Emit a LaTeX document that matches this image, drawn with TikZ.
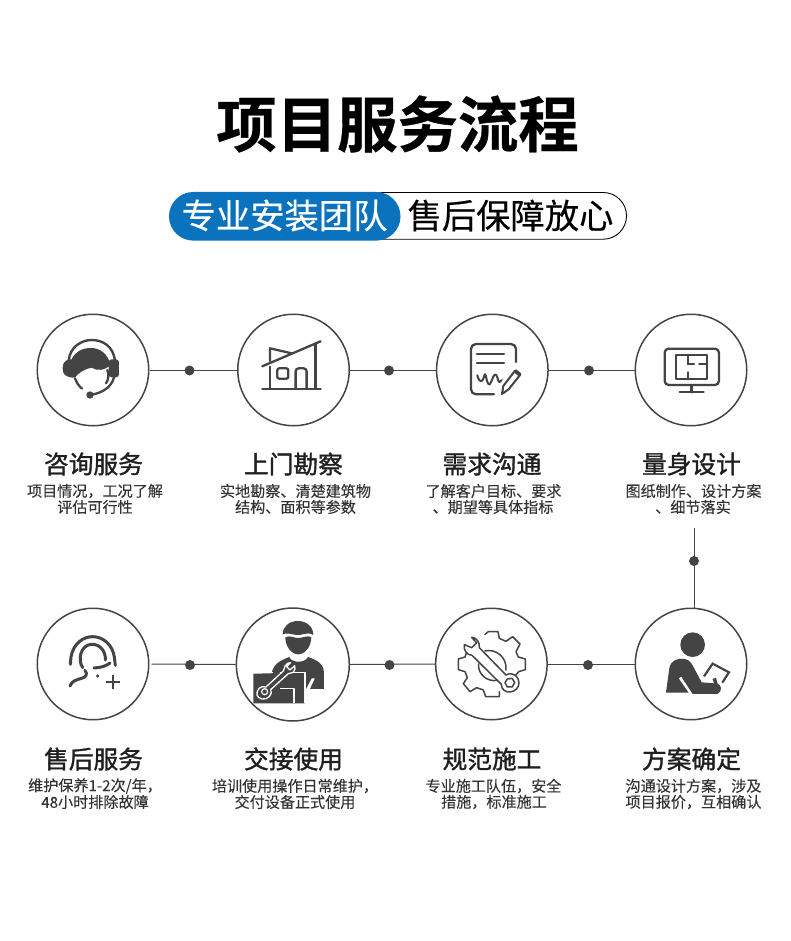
\documentclass[tikz,border=0pt]{standalone}
\usepackage{fontspec}
\setmainfont{Noto Sans CJK SC}
\newfontfamily\cjkreg{Noto Sans CJK SC}
\newfontfamily\cjksub[FakeBold=0.35]{Noto Sans CJK SC}
\newfontfamily\cjkdesc[FakeBold=0.12]{Noto Sans CJK SC}
\newfontfamily\cjkmed[FakeBold=1.3]{Noto Sans CJK SC}
\newfontfamily\cjkbold[FakeBold=0.6]{Noto Sans CJK SC Bold}
\definecolor{ink}{HTML}{444444}
\definecolor{pillblue}{HTML}{0B72BD}
\tikzset{
  stepcircle/.style={circle,draw=ink,line width=1.5pt,minimum size=111.5pt,inner sep=0pt,fill=white},
  linkdot/.style={circle,fill=ink,minimum size=10pt,inner sep=0pt},
  linkline/.style={draw=ink,line width=1pt},
  steptitle/.style={font=\cjkmed\fontsize{24.7}{26}\selectfont,text=black!88,inner sep=0pt,anchor=center},
  stepdesc/.style={font=\cjkdesc\fontsize{15.1}{16}\selectfont,text=black!80,inner sep=0pt,anchor=center},
  iconline/.style={draw=ink,line width=2.3pt,line cap=round,line join=round},
  iconthin/.style={draw=ink,line width=1.5pt,line cap=round,line join=round},
  iconfill/.style={fill=ink},
  zoomA/.style={shift={(20,300)},x=0.3333pt,y=-0.3333pt},
  zoomB/.style={shift={(420,300)},x=0.3333pt,y=-0.3333pt},
  zoomC/.style={shift={(20,595)},x=0.3333pt,y=-0.3333pt},
  zoomD/.style={shift={(420,595)},x=0.3333pt,y=-0.3333pt}
}
\begin{document}
\begin{tikzpicture}[x=1pt,y=-1pt]
\useasboundingbox[fill=white] (0,0) rectangle (790,941);
% title
\node[font=\cjkbold\fontsize{60.4}{64}\selectfont,inner sep=0pt,text=black] (title) at (397.5,124) {项目服务流程};
% pill
\draw[black,line width=0.9pt,rounded corners=23.3pt,fill=white] (360,192.5) rectangle (626.5,239.2);
\fill[pillblue,rounded corners=24.3pt] (169,192) rectangle (400.5,240.6);
\node[font=\cjksub\fontsize{34.3}{36}\selectfont,text=white,inner sep=0pt] (pilla) at (284.5,215.5) {专业安装团队};
\node[font=\cjksub\fontsize{34.3}{36}\selectfont,text=black,inner sep=0pt] (pillb) at (510.5,215.5) {售后保障放心};
% circles
\node[stepcircle] (c1) at (93,370) {};
\node[stepcircle] (c2) at (293.5,370) {};
\node[stepcircle] (c3) at (492.3,370) {};
\node[stepcircle] (c4) at (691,370) {};
\node[stepcircle] (c5) at (93,664) {};
\node[stepcircle,minimum size=113pt] (c6) at (292.8,664.5) {};
\node[stepcircle] (c7) at (491.4,664) {};
\node[stepcircle] (c8) at (691,664) {};
% dots
\coordinate (l1) at (189.5,370.5);
\coordinate (l2) at (389,370.5);
\coordinate (l3) at (589,370.5);
\coordinate (l4) at (190,665);
\coordinate (l5) at (389.5,665);
\coordinate (l6) at (588,665);
\coordinate (vtop) at (694,528);
\coordinate (vdot) at (694,561);
\coordinate (vend) at (694,608.5);
\draw[linkline] (c1.east) -- (c2.west);
\draw[linkline] (c2.east) -- (c3.west);
\draw[linkline] (c3.east) -- (c4.west);
\draw[linkline,shorten <=2pt] (c5.east) -- (c6.west);
\draw[linkline] (c6.east) -- (c7.west);
\draw[linkline] (c7.east) -- (c8.west);
\draw[linkline] (vtop) -- (vend);
\node[linkdot] (d1) at (l1) {};
\node[linkdot] (d2) at (l2) {};
\node[linkdot] (d3) at (l3) {};
\node[linkdot] (d4) at (l4) {};
\node[linkdot] (d5) at (l5) {};
\node[linkdot] (d6) at (l6) {};
\node[linkdot] (d7) at (vdot) {};
% icon 1 headset
\begin{scope}[zoomA]
\draw[iconline,line width=2.4pt,line cap=butt] (146,182) .. controls (150,140) and (185,120) .. (215,120) .. controls (250,120) and (280,140) .. (285,182);
\fill[ink] (155,178) .. controls (130,178) and (128,195) .. (128,205) .. controls (128,222) and (135,233) .. (165,233) .. controls (172,222) and (190,208) .. (215,203) .. controls (230,214) and (255,212) .. (272,194) .. controls (262,160) and (240,144) .. (212,144) .. controls (185,144) and (165,156) .. (155,178) -- cycle;
\fill[ink,rounded corners=3pt] (266,178) rectangle (297,232);
\draw[iconline] (165,235) .. controls (170,248) and (176,258) .. (186,266);
\draw[iconline] (262,210) .. controls (268,225) and (265,240) .. (258,250);
\draw[iconline] (282,232) .. controls (275,262) and (245,280) .. (210,285);
\fill[ink] (210,285) circle[radius=11];
\end{scope}
% icon 2 house
\begin{scope}[zoomA]
\draw[iconline] (727,267) -- (902,267);
\draw[iconline] (727,199) -- (902,124);
\draw[iconline] (887,131) -- (887,267);
\draw[iconline] (750,183) -- (750,145) -- (815,160);
\draw[iconline] (750,200) -- (750,267);
\draw[iconline,rounded corners=2pt] (772,205) rectangle (805,236);
\draw[iconline,rounded corners=3pt] (827,267) -- (827,205) -- (860,205) -- (860,267);
\end{scope}
% icon 3 document
\begin{scope}[zoomB]
\draw[iconline,rounded corners=5pt] (288,186) -- (288,132) -- (153,132) -- (153,283) -- (222,283);
\draw[iconline] (171,161) -- (252,161);
\draw[iconline] (171,190) -- (252,190);
\draw[iconline,line width=2pt] (172,226) .. controls (178,250) and (188,250) .. (193,226) .. controls (198,210) and (200,262) .. (210,252) .. controls (218,240) and (220,220) .. (228,224) .. controls (236,232) and (232,258) .. (245,240);
\draw[iconline,line width=2pt] (246,282) -- (250,258) -- (285,212) -- (301,224) -- (266,268) -- cycle;
\fill[ink] (281,217) -- (288,208) -- (303,219) -- (296,228) -- cycle;
\end{scope}
% icon 4 monitor
\begin{scope}[zoomB]
\draw[iconline,rounded corners=4pt] (734,146) rectangle (897,255);
\draw[iconline] (815,255) -- (815,277);
\draw[iconline] (779,277) -- (851,277);
\draw[iconline] (768,164) rectangle (862,236);
\draw[iconline] (805,164) -- (805,193);
\draw[iconline] (805,217) -- (805,236);
\draw[iconline] (805,191) -- (822,191);
\draw[iconline] (838,191) -- (862,191);
\end{scope}
% icon 5 headset outline
\begin{scope}[zoomC,line width=3pt]
\draw[draw=ink,line width=3pt,line cap=round,line join=round] (151,208) -- (153,186) .. controls (160,145) and (190,125) .. (218,125) .. controls (250,125) and (278,150) .. (283,186) -- (286,211);
\draw[draw=ink,line width=3pt,line cap=round,line join=round] (188,218) .. controls (172,195) and (182,150) .. (214,148) .. controls (240,146) and (258,170) .. (256,195);
\draw[draw=ink,line width=3pt,line cap=round,line join=round] (150,273) .. controls (155,258) and (170,254) .. (185,250) .. controls (198,246) and (204,238) .. (195,226);
\draw[draw=ink,line width=3pt,line cap=round,line join=round] (222,219) .. controls (240,218) and (258,214) .. (270,204);
\fill[ink] (233,243) circle[radius=5];
\draw[iconline,line width=1.8pt,line cap=butt] (257,261) -- (300,261);
\draw[iconline,line width=1.8pt,line cap=butt] (278,241) -- (278,281);
\end{scope}
% icon 6 worker
\begin{scope}[zoomC]
\fill[ink] (788,118) .. controls (788,95) and (808,78) .. (833,78) .. controls (860,78) and (880,95) .. (880,120) .. controls (860,108) and (845,123) .. (830,120) .. controls (815,118) and (800,112) .. (788,118) -- cycle;
\fill[ink] (796,127) .. controls (810,120) and (820,128) .. (832,129) .. controls (848,130) and (860,120) .. (874,126) .. controls (874,155) and (855,178) .. (835,178) .. controls (815,178) and (796,155) .. (796,127) -- cycle;
\fill[ink] (755,235) .. controls (760,205) and (785,195) .. (808,186) .. controls (815,205) and (855,205) .. (864,186) .. controls (890,195) and (912,205) .. (912,235) -- (912,282) -- (870,282) -- (885,250) -- (875,250) -- (858,282) -- (855,325) -- (700,325) -- (700,236) -- cycle;
\draw[white,line width=1.6pt] (700,233) -- (760,233);
\draw[white,line width=1.6pt] (780,233) -- (855,233) -- (855,325);
\draw[white,line width=1.3pt,line join=round] (780,280) -- (822,280) -- (822,325);
\draw[white,line width=1.3pt,fill=ink,line join=round] (796,212) -- (790,228) -- (738,276) .. controls (722,270) and (708,285) .. (711,300) .. controls (714,312) and (735,318) .. (748,305) .. controls (755,298) and (755,290) .. (752,284) -- (805,236) -- (820,232) .. controls (826,226) and (826,218) .. (824,212) -- (810,225) -- (800,215) -- (812,203) .. controls (806,202) and (800,206) .. (796,212) -- cycle;
\draw[white,line width=1.2pt] (734,290) circle[radius=9];
\end{scope}
% icon 7 gear and wrench
\begin{scope}[zoomD]
\draw[iconthin] (195,118) -- (205,110) -- (234,110) -- (238,130) -- (258,139) -- (278,125) -- (300,147) -- (288,170) -- (295,186) -- (316,192) -- (316,224) -- (296,230) -- (285,243);
\draw[iconthin] (238,290) -- (238,305) -- (197,305) -- (190,285) -- (170,278) -- (150,290) -- (130,266) -- (142,248) -- (135,230) -- (115,224) -- (115,192) -- (135,186) -- (140,172);
\draw[iconthin] (195,168) .. controls (225,160) and (262,185) .. (258,225);
\draw[iconthin] (176,207) .. controls (172,235) and (200,262) .. (232,256);
\draw[iconthin,fill=white] (133,149) .. controls (130,165) and (140,180) .. (156,181) -- (244,268) .. controls (244,285) and (258,292) .. (270,291) .. controls (285,290) and (297,278) .. (297,264) .. controls (297,248) and (285,236) .. (270,236) .. controls (268,236) and (262,238) .. (258,240) -- (178,158) .. controls (180,142) and (170,128) .. (155,127) -- (170,144) -- (155,158) -- cycle;
\draw[iconthin] (262,252) -- (276,250) -- (284,262) -- (277,276) -- (262,276) -- (255,263) -- cycle;
\end{scope}
% icon 8 person
\begin{scope}[zoomD]
\fill[ink] (818,149) circle[radius=37];
\fill[ink] (738,293) -- (748,220) .. controls (752,195) and (775,188) .. (795,192) .. controls (808,195) and (815,205) .. (820,215) -- (845,262) -- (882,265) -- (878,252) -- (888,248) -- (893,266) .. controls (905,270) and (908,290) .. (892,297) -- (818,297) -- (784,245) -- (776,250) -- (806,293) -- cycle;
\draw[iconline,line width=2.2pt,line cap=butt,line join=miter] (852,244) -- (878,206) -- (927,232) -- (907,263);
\end{scope}
% labels row 1
\node[steptitle] (t1) at (93.5,464) {咨询服务};
\node[stepdesc] (a1) at (95,491) {项目情况，工况了解};
\node[stepdesc] (b1) at (95,507) {评估可行性};
\node[steptitle] (t2) at (293.5,464) {上门勘察};
\node[stepdesc] (a2) at (295.5,491) {实地勘察、清楚建筑物};
\node[stepdesc] (b2) at (295.5,507) {结构、面积等参数};
\node[steptitle] (t3) at (492,464) {需求沟通};
\node[stepdesc] (a3) at (493.5,491) {了解客户目标、要求};
\node[stepdesc] (b3) at (493,507) {、期望等具体指标};
\node[steptitle] (t4) at (691.5,464) {量身设计};
\node[stepdesc] (a4) at (693.5,491) {图纸制作、设计方案};
\node[stepdesc] (b4) at (693,507) {、细节落实};
% labels row 2
\node[steptitle] (t5) at (93.5,759) {售后服务};
\node[stepdesc] (a5) at (95,786) {维护保养1-2次/年，};
\node[stepdesc] (b5) at (95,802) {48小时排除故障};
\node[steptitle] (t6) at (293.5,759) {交接使用};
\node[stepdesc] (a6) at (295,786) {培训使用操作日常维护，};
\node[stepdesc] (b6) at (295,802) {交付设备正式使用};
\node[steptitle] (t7) at (492,759) {规范施工};
\node[stepdesc] (a7) at (493.5,786) {专业施工队伍，安全};
\node[stepdesc] (b7) at (494,802) {措施，标准施工};
\node[steptitle] (t8) at (691.5,759) {方案确定};
\node[stepdesc] (a8) at (693.5,786) {沟通设计方案，涉及};
\node[stepdesc] (b8) at (693.5,802) {项目报价，互相确认};
\end{tikzpicture}
\end{document}
